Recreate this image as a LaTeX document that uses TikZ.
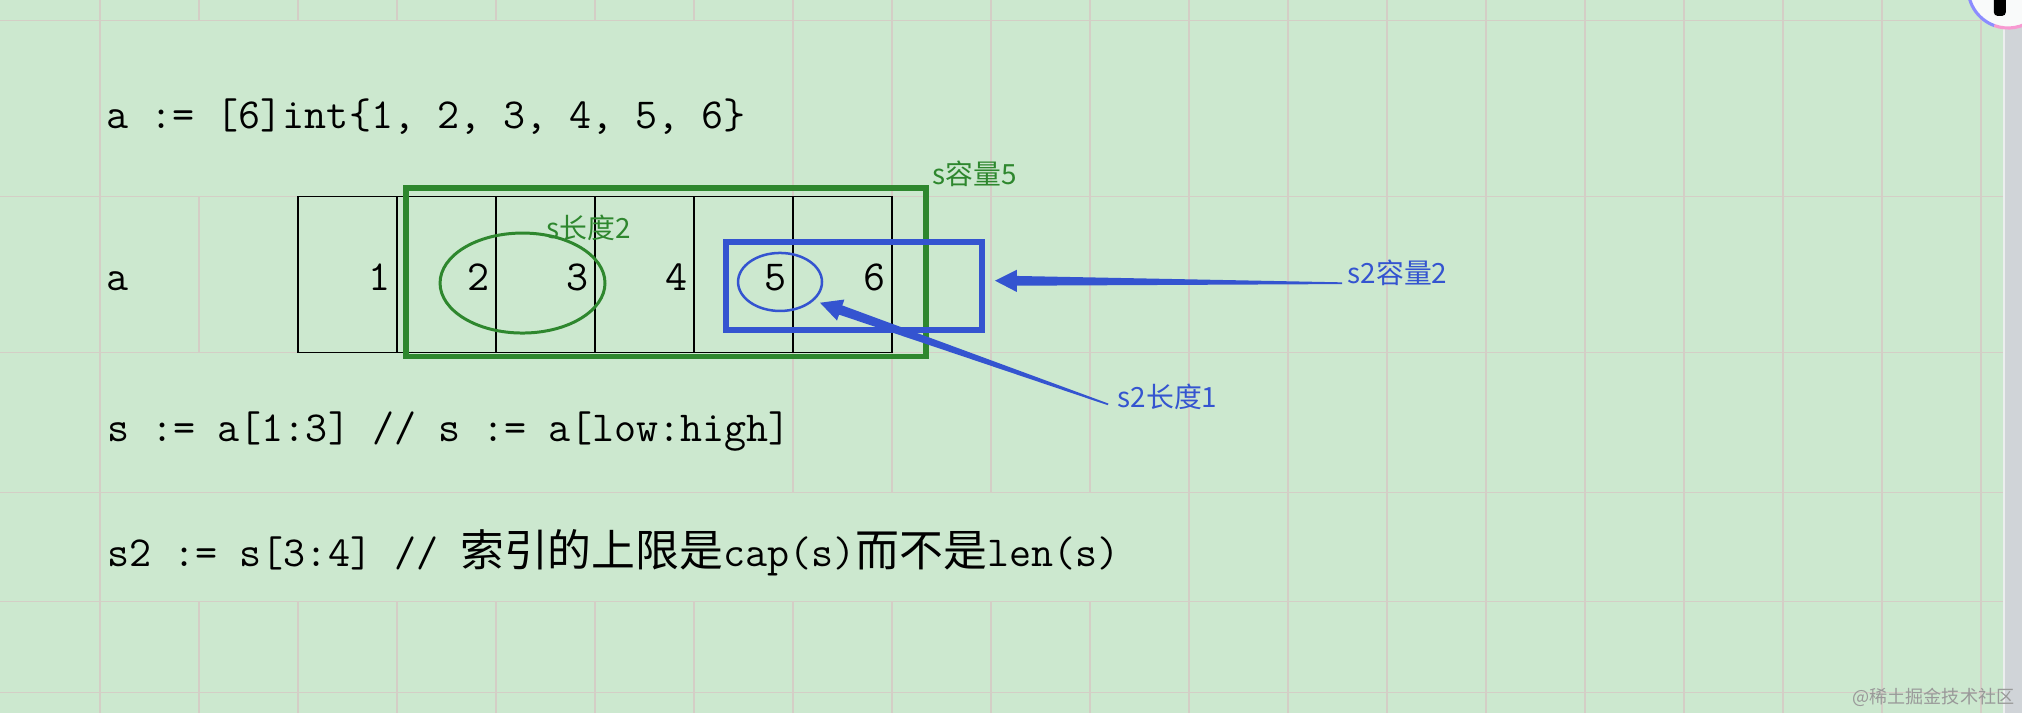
\documentclass[tikz,border=0pt]{standalone}
\usepackage{fontspec}
\newfontfamily\cjk{Noto Sans CJK SC}
\usetikzlibrary{calc}

\definecolor{bggreen}{RGB}{204,232,207}
\definecolor{gridgray}{RGB}{212,206,198}
\definecolor{sgreen}{RGB}{46,135,46}
\definecolor{s2blue}{RGB}{52,84,208}
\definecolor{bargray}{RGB}{208,212,216}

% 代码行里的中文
\newcommand{\zh}[1]{{\cjk\fontsize{12.6}{14}\selectfont #1}}
% 尖头渐细箭头: #1 尾, #2 尖
\newcommand{\taperarrow}[2]{%
	\coordinate (#2-base) at ($(#2)!6.3pt!(#1)$);
	\fill[s2blue] ($(#1)!0.25pt!90:(#2)$) -- ($(#2-base)!1.4pt!90:(#2)$) -- ($(#2-base)!3.2pt!90:(#2)$) -- (#2)
		-- ($(#2-base)!3.2pt!-90:(#2)$) -- ($(#2-base)!1.4pt!-90:(#2)$) -- ($(#1)!0.25pt!-90:(#2)$) -- cycle;
}

\begin{document}
\begin{tikzpicture}[
		gridline/.style={gridgray, line width=0.35pt},
		code/.style={anchor=base west, inner sep=0pt, font=\fontsize{12.3}{14}\selectfont\ttfamily},
		cellnum/.style={anchor=base east, inner sep=0pt, font=\fontsize{12.3}{14}\selectfont\ttfamily},
		slabel/.style={anchor=west, inner sep=0pt, text=sgreen, font=\cjk\fontsize{8}{9}\selectfont},
		s2label/.style={slabel, text=s2blue}
	]
	% 背景
	\fill[bggreen] (-0.01,0) rectangle (20.414,-7.202);
	\useasboundingbox (-0.01,0) rectangle (20.414,-7.202);
	
	% 表格线, 文字溢出的格子不画竖线
	\foreach \y in {-0.209,-1.987,-3.559,-4.977,-6.078,-6.993}
		\draw[gridline] (-0.01,\y) -- (20.23,\y);
	\foreach \x in {1,12,13,...,20}
		\draw[gridline] (\x,0) -- (\x,-7.202);
	\foreach \x in {2,...,11} {
		\draw[gridline] (\x,0) -- (\x,-0.209);
		\draw[gridline] (\x,-6.078) -- (\x,-7.202);
	}
	\foreach \x in {8,...,11}
		\draw[gridline] (\x,-0.209) -- (\x,-4.977);
	\draw[gridline] (2,-1.987) -- (2,-3.559);
	
	% 右边滚动条
	\fill[bargray] (20.23,0) rectangle (20.414,-7.202);
	\draw[white!60!bargray, line width=0.6pt] (20.23,0) -- (20.23,-7.202);
	
	% 数组 a 的格子
	\draw[line width=0.4pt] (3,-1.987) rectangle (9,-3.559);
	\foreach \x in {4,...,8}
		\draw[line width=0.4pt] (\x,-1.987) -- (\x,-3.559);
	
	\node[code] (arr) at (1.06,-1.293) {a := [6]int\{1, 2, 3, 4, 5, 6\}};
	\node[code] (alabel) at (1.06,-2.939) {a};
	\foreach \n in {1,...,6}
		\node[cellnum] (num\n) at (\n+2.94,-2.939) {\n};
	\node[code] (sline) at (1.07,-4.462) {s := a[1:3] // s := a[low:high]};
	\node[code] (s2line) at (1.07,-5.727) {s2 := s[3:4] // \zh{索引的上限是}cap(s)\zh{而不是}len(s)};
	
	% s: 容量与长度
	\draw[sgreen, line width=1.72pt] (4.091,-1.896) rectangle (9.348,-3.601);
	\draw[sgreen, line width=0.86pt] (5.268,-2.859) ellipse (0.833 and 0.505);
	% s2: 容量与长度
	\draw[s2blue, line width=1.85pt] (7.323,-2.444) rectangle (9.909,-3.333);
	\draw[s2blue, line width=0.72pt] (7.869,-2.848) ellipse (0.424 and 0.293);
	
	\node[slabel] (scap) at (9.404,-1.753) {s容量5};
	\node[slabel] (slen) at (5.505,-2.306) {s长度2};
	\node[s2label] (s2cap) at (13.596,-2.753) {s2容量2};
	\node[s2label] (s2len) at (11.273,-4.007) {s2长度1};
	
	\coordinate (cap2tail) at ($(s2cap.base west)+(-0.05,0)$);
	\coordinate (cap2tip) at (10.04,-2.835);
	\taperarrow{cap2tail}{cap2tip}
	\coordinate (len2tail) at ($(s2len.base west)+(-0.09,0.03)$);
	\coordinate (len2tip) at (8.273,-3.058);
	\taperarrow{len2tail}{len2tip}
	
	% 右上角图标
	\begin{scope}
		\clip (-0.01,0) rectangle (20.414,-7.202);
		\fill[white!88!bargray] (20.273,0.121) circle (0.404);
		\draw[blue!45!white, line width=0.9pt] (20.273,0.121) ++(180:0.404) arc (180:250:0.404);
		\draw[magenta!40!white, line width=0.9pt] (20.273,0.121) ++(250:0.404) arc (250:360:0.404);
		\fill[black, rounded corners=1pt] (20.13,0.05) rectangle (20.25,-0.16);
	\end{scope}
	
	\node[anchor=east, inner sep=0pt, text=black!40, font=\cjk\fontsize{5.2}{6}\selectfont] (mark) at (20.343,-7.04) {@稀土掘金技术社区};
\end{tikzpicture}
\end{document}
